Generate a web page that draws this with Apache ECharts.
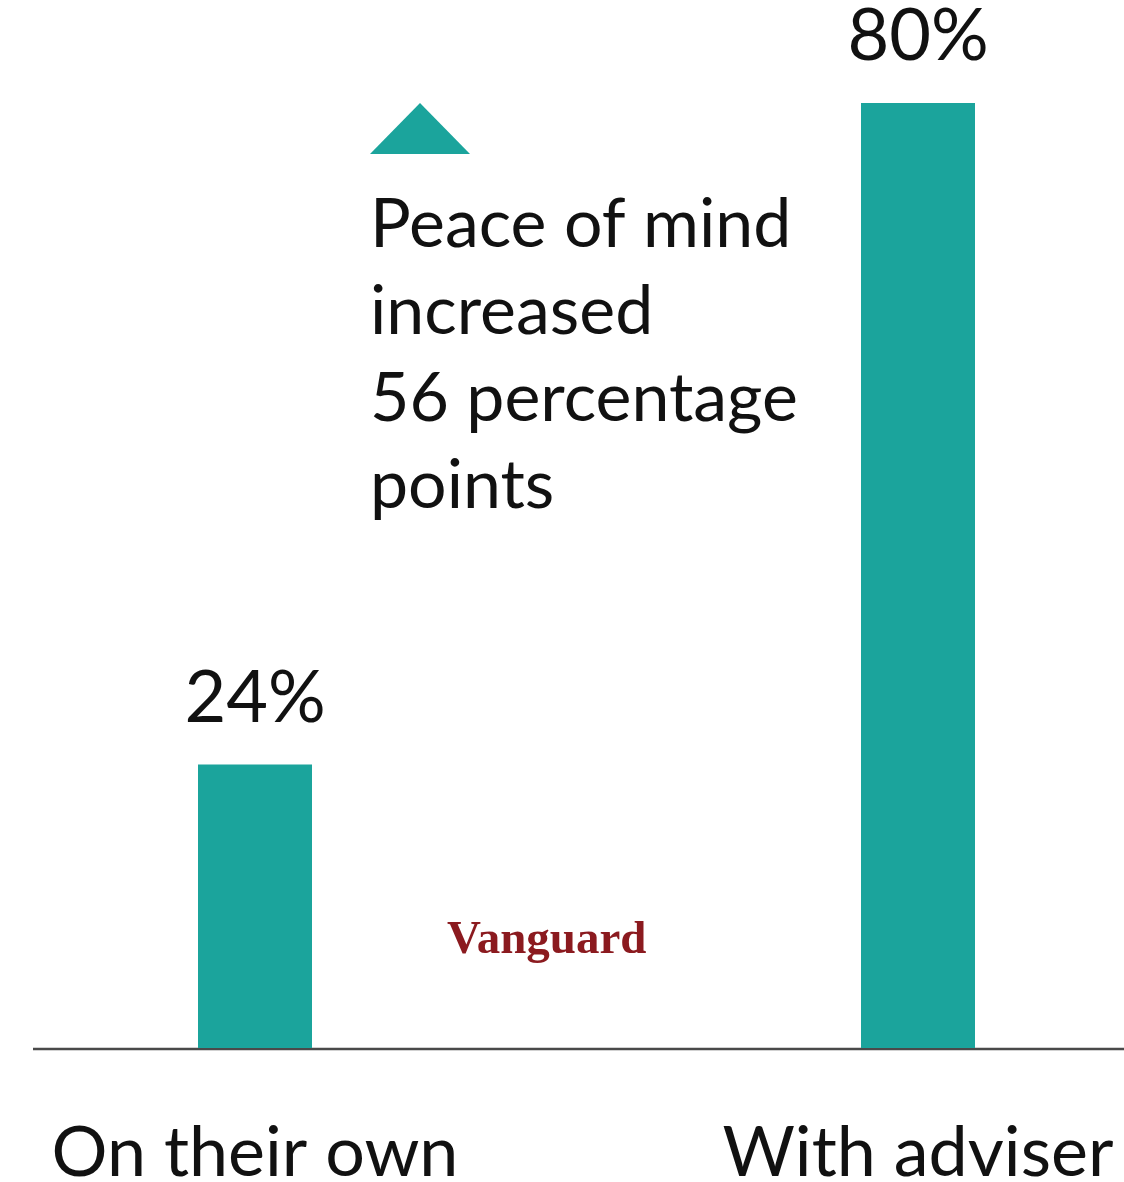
<!DOCTYPE html>
<html>
<head>
<meta charset="utf-8">
<script src="https://cdn.jsdelivr.net/npm/echarts@6/dist/echarts.min.js"></script>
<style>
  html, body { margin: 0; padding: 0; background: #fff; }
  #chart { width: 1124px; height: 1182px; }
</style>
</head>
<body>
<div id="chart"></div>
<script>
// 数据
const categories = ['On their own', 'With adviser']
const values = [24, 80]
const noteLines = ['Peace of mind', 'increased', '{diff} percentage', 'points']

const teal = '#1ba49c'
const chart = echarts.init(document.getElementById('chart'))

const diff = values[1] - values[0]
const noteText = noteLines.join('\n').replace('{diff}', diff)

const option = {
  animation: false,
  grid: {
    // 柱子中心在 255 / 918，类目点在网格两端
    left: 255,
    right: 206,
    top: 103,
    bottom: 134,
    outerBoundsMode: 'none'
  },
  xAxis: {
    type: 'category',
    data: categories,
    boundaryGap: false,
    axisLine: { show: false },
    axisTick: { show: false },
    axisLabel: {
      margin: 70,
      fontSize: 70,
      fontFamily: 'Lato',
      color: '#111'
    }
  },
  yAxis: {
    type: 'value',
    min: 0,
    max: 80,
    show: false,
    splitLine: { show: false }
  },
  series: [
    {
      type: 'bar',
      data: values,
      barWidth: 114,
      clip: false,
      itemStyle: { color: teal },
      label: {
        show: true,
        position: 'top',
        distance: 30,
        fontSize: 72,
        fontFamily: 'Lato',
        color: '#111',
        formatter: p => p.value + '%'
      }
    }
  ],
  graphic: [
    // 底线
    {
      type: 'line',
      shape: { x1: 33, y1: 1049, x2: 1124, y2: 1049 },
      style: { stroke: '#4a4a4a', lineWidth: 2.5 }
    },
    // 三角形
    {
      type: 'polygon',
      shape: { points: [[370, 154], [420, 103], [470, 154]] },
      style: { fill: teal }
    },
    {
      type: 'text',
      left: 370,
      top: 182,
      style: {
        text: noteText,
        fontSize: 68,
        lineHeight: 87,
        fontFamily: 'Lato',
        fill: '#111'
      }
    },
    {
      type: 'text',
      left: 447,
      top: 917,
      style: {
        text: 'Vanguard',
        fontSize: 47,
        fontWeight: 'bold',
        fontFamily: 'Liberation Serif',
        fill: '#8b1a1f'
      }
    }
  ]
}

chart.setOption(option)
</script>
</body>
</html>
